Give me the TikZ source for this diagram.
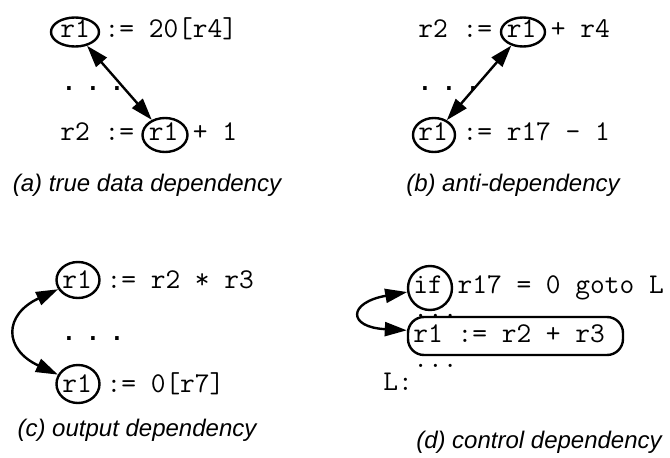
\documentclass[tikz,border=0pt]{standalone}
\usepackage{fontspec}
\newfontfamily\capfont{Liberation Sans}
\usepackage{tikz}
\usetikzlibrary{shapes,shapes.geometric,arrows.meta,positioning,calc}

\begin{document}
\begin{tikzpicture}[x=0.5pt, y=0.5pt,
    code/.style={anchor=base west, inner sep=0pt, text height=8pt, text depth=2.5pt, font=\ttfamily\fontsize{14.3}{12.25}\selectfont},
    reg/.style 2 args={draw, ellipse, line width=1.2pt, inner sep=0pt, minimum width=#1, minimum height=#2},
    gap/.style={anchor=base, inner sep=0pt, font=\capfont\fontsize{18.5}{20}\selectfont},
    dep/.style={{Triangle[length=11pt,width=7pt]}-{Triangle[length=11pt,width=7pt]}, line width=1.2pt},
    caption/.style={font=\capfont\itshape\fontsize{12}{14}\selectfont}]
\useasboundingbox (0,0) rectangle (670,457);
% (a) true data dependency
\node[code] (aL1) at (60,420) {r1 := 20[r4]};
\node[gap] (aDots) at (93,367) {. . .};
\node[code] (aL2) at (60,317) {r2 := r1 + 1};
\node[reg={24pt}{14.5pt}] (aT) at (75,425) {};
\node[reg={22.5pt}{17pt}] (aB) at (165,322) {};
\draw[dep] (aT) -- (aB);
\node[caption] (aCap) at (147,272) {(a) true data dependency};
% (b) anti-dependency
\node[code] (bL1) at (418,420) {r2 := r1 + r4};
\node[gap] (bDots) at (449,367) {. . .};
\node[code] (bL2) at (418,317) {r1 := r17 - 1};
\node[reg={22pt}{14.5pt}] (bT) at (523,425) {};
\node[reg={21pt}{17pt}] (bB) at (434,322) {};
\draw[dep] (bT) -- (bB);
\node[caption] (bCap) at (513,272) {(b) anti-dependency};
% (c) output dependency
\node[code] (cL1) at (62,169) {r1 := r2 * r3};
\node[gap] (cDots) at (93,117) {. . .};
\node[code] (cL2) at (62,65) {r1 := 0[r7]};
\node[reg={21.5pt}{18pt}] (cT) at (78,177) {};
\node[reg={21.5pt}{19pt}] (cB) at (78,73) {};
\draw[dep] (cT) to[out=205, in=155, looseness=1.8] (cB);
\node[caption] (cCap) at (137,27) {(c) output dependency};
% (d) control dependency
\node[code] (dL1) at (413,164) {if r17 = 0 goto L};
\node[code] (dL2) at (413,140) {...};
\node[code] (dL3) at (413,115) {r1 := r2 + r3};
\node[code] (dL4) at (413,90) {...};
\node[code] (dL5) at (383,67) {L:};
\node[reg={22pt}{22pt}] (dI) at (430,169) {};
\node[draw, line width=1.2pt, rounded corners=8pt, minimum width=107.5pt, minimum height=19pt] (dS) at (515.5,121) {};
\draw[dep] (dI) to[out=190, in=177, looseness=4] (dS);
\node[caption] (dCap) at (539,15) {(d) control dependency};
\end{tikzpicture}
\end{document}
